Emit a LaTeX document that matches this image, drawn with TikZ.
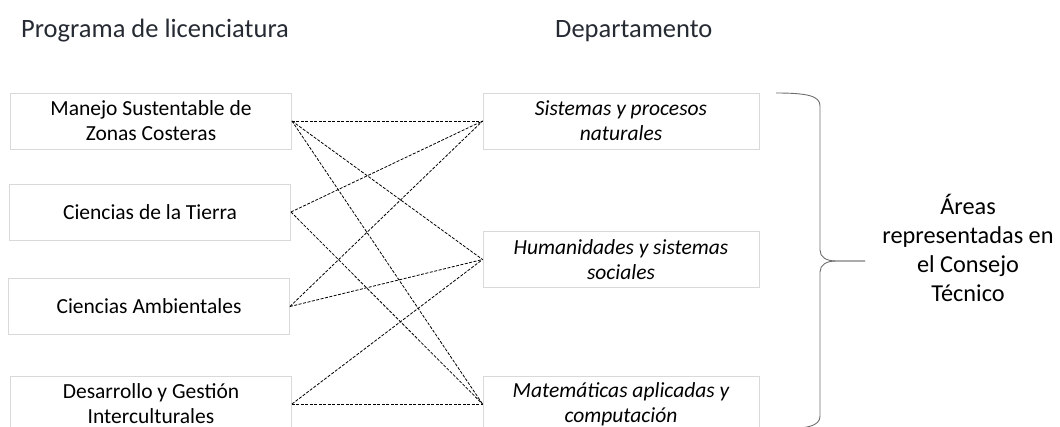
\documentclass[tikz,border=0pt]{standalone}
\usepackage{fontspec}
\setmainfont{Carlito}
\usepackage{tikz}

\definecolor{headgray}{HTML}{262A33}
\definecolor{boxgray}{HTML}{D9D9D9}
\definecolor{bracegray}{HTML}{6E6E6E}

\begin{document}
\begin{tikzpicture}[x=1pt,y=-1pt,
    prog/.style={draw=boxgray,line width=0.9pt,minimum width=281pt,minimum height=56pt,
        inner sep=0pt,align=center,font=\fontsize{21.5}{25}\selectfont},
    dept/.style={prog,minimum width=276pt,font=\fontsize{21.5}{25}\selectfont\itshape},
    head/.style={anchor=base west,inner sep=0pt,text=headgray,font=\fontsize{26.5}{30}\selectfont},
    link/.style={line width=0.8pt,dash pattern=on 3pt off 1.5pt}]
    \useasboundingbox (0,0) rectangle (1060,426);
    \clip (0,0) rectangle (1060,426);
    % titles
    \node[head] (hprog) at (21,37) {Programa de licenciatura};
    \node[head] (hdept) at (555,37) {Departamento};
    % programas
    \node[prog] (manejo) at (151,121) {Manejo Sustentable de\\Zonas Costeras};
    \node[prog] (tierra) at (150,212) {Ciencias de la Tierra};
    \node[prog] (ambient) at (149,306.5) {Ciencias Ambientales};
    \node[prog] (desarr) at (151,404) {Desarrollo y Gesti\'on\\Interculturales};
    % departamentos
    \node[dept] (sistemas) at (621,121) {Sistemas y procesos\\naturales};
    \node[dept] (humanid) at (621,259.5) {Humanidades y sistemas\\sociales};
    \node[dept] (matemat) at (621,404) {Matem\'aticas aplicadas y\\computaci\'on};
    % links
    \draw[link] (manejo.east) -- (sistemas.west);
    \draw[link] (manejo.east) -- (humanid.west);
    \draw[link] (manejo.east) -- (matemat.west);
    \draw[link] (tierra.east) -- (sistemas.west);
    \draw[link] (tierra.east) -- (matemat.west);
    \draw[link] (ambient.east) -- (sistemas.west);
    \draw[link] (ambient.east) -- (humanid.west);
    \draw[link] (desarr.east) -- (humanid.west);
    \draw[link] (desarr.east) -- (matemat.west);
    % brace
    \coordinate (tip) at (865,261);
    \draw[bracegray,line width=0.9pt] (776,93) .. controls (808,93) and (820,96) .. (820,106)
        -- (820,250) .. controls (820,257) and (826,261) .. (836,261) -- (tip);
    \draw[bracegray,line width=0.9pt] (tip) -- (836,261) .. controls (826,261) and (820,265) .. (820,272)
        -- (820,416) .. controls (820,426) and (808,429) .. (776,429);
    \node[align=center,inner sep=0pt,font=\fontsize{24.3}{29}\selectfont] (areas) at (968,248)
        {\'Areas\\representadas en\\el Consejo\\T\'ecnico};
\end{tikzpicture}
\end{document}
